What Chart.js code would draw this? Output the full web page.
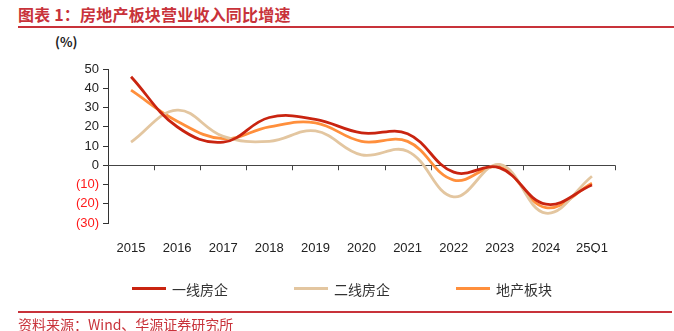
<!DOCTYPE html>
<html>
<head>
<meta charset="utf-8">
<script src="https://cdn.jsdelivr.net/npm/chart.js@4/dist/chart.umd.min.js"></script>
<style>
  html, body { margin: 0; padding: 0; background: #fff; }
  #wrap { position: relative; width: 674px; height: 331px; overflow: hidden; font-family: "Noto Sans CJK SC", sans-serif; }
  #chartRev { position: absolute; left: 0; top: 0; }
  .title { position: absolute; left: 18px; top: 4px; font-size: 16px; font-weight: bold; color: #c8323a; letter-spacing: 0.2px; line-height: 20px; white-space: nowrap; }
  .rule { position: absolute; left: 18px; right: 0; background: #c8323a; }
  .unit { position: absolute; left: 55px; top: 32px; font-size: 13px; font-weight: bold; color: #222; }
  .source { position: absolute; left: 18px; top: 315px; font-size: 14px; color: #c8323a; line-height: 18px; white-space: nowrap; }
  #legend { position: absolute; top: 279px; left: 0; width: 674px; height: 20px; }
  .lg-item { position: absolute; top: 0; height: 20px; }
  .lg-swatch { position: absolute; left: 0; top: 8px; width: 34px; height: 3px; }
  .lg-text { position: absolute; left: 40px; top: 0; font-size: 14px; line-height: 20px; color: #333; white-space: nowrap; }
</style>
</head>
<body>
<div id="wrap">
  <div class="title">图表 1：房地产板块营业收入同比增速</div>
  <div class="rule" style="top:26px;height:2px;"></div>
  <div class="unit">(%)</div>
  <canvas id="chartRev" width="674" height="331"></canvas>
  <div id="legend"></div>
  <div class="rule" style="top:311px;height:1.5px;right:2px;"></div>
  <div class="source">资料来源：Wind、华源证券研究所</div>
</div>
<script>
const labels = ["2015", "2016", "2017", "2018", "2019", "2020", "2021", "2022", "2023", "2024", "25Q1"];
const seriesNames = ["一线房企", "二线房企", "地产板块"];
const tier1 = [46, 20, 12, 24.8, 23.8, 16.8, 16.4, -3.6, -1.4, -20.2, -10.3];
const tier2 = [12, 28.6, 15, 12.4, 17.8, 5.4, 7.3, -16.4, 0.4, -24.9, -5.7];
const sector = [39, 22.9, 13.8, 19.9, 22, 12.4, 12.4, -7.7, -1, -22, -9.4];
const yTicks = [-30, -20, -10, 0, 10, 20, 30, 40, 50];
const colors = ["#c92410", "#e3c6a0", "#ff8f3c"];

const el = (id) => document.getElementById(id);

// negativos entre paréntesis
const fmtTick = (v) => (v < 0 ? "(" + Math.abs(v) + ")" : String(v));

// eje x en el cero con marcas entre categorías
const zeroAxis = {
  id: "zeroAxis",
  beforeDatasetsDraw(chart) {
    const { ctx, chartArea, scales } = chart;
    const y0 = scales.y.getPixelForValue(0);
    const x = scales.x;
    ctx.save();
    ctx.strokeStyle = "#444";
    ctx.lineWidth = 1;
    ctx.beginPath();
    ctx.moveTo(chartArea.left, Math.round(y0) + 0.5);
    ctx.lineTo(chartArea.right, Math.round(y0) + 0.5);
    for (let i = 0; i < labels.length; i++) {
      const bx = i < labels.length - 1
        ? (x.getPixelForValue(i) + x.getPixelForValue(i + 1)) / 2
        : chartArea.right;
      ctx.moveTo(Math.round(bx) + 0.5, y0);
      ctx.lineTo(Math.round(bx) + 0.5, y0 + 5);
    }
    ctx.stroke();
    ctx.restore();
  },
};

function renderLegend() {
  const starts = [132, 294, 456];
  el("legend").innerHTML = seriesNames
    .map((n, i) =>
      `<div class="lg-item" style="left:${starts[i]}px"><div class="lg-swatch" style="background:${colors[i]}"></div><div class="lg-text">${n}</div></div>`)
    .join("");
}

function renderChart() {
  const data = [tier1, tier2, sector];
  new Chart(el("chartRev").getContext("2d"), {
    type: "line",
    data: {
      labels,
      datasets: data.map((d, i) => ({
        label: seriesNames[i],
        data: d,
        borderColor: colors[i],
        borderWidth: 2.8,
        pointRadius: 0,
        tension: 0.4,
        fill: false,
      })),
    },
    options: {
      responsive: false,
      animation: false,
      layout: { padding: { left: 0, right: 59, top: 69, bottom: 78 } },
      plugins: { legend: { display: false }, tooltip: { enabled: false } },
      scales: {
        x: {
          offset: true,
          grid: { display: false },
          border: { display: false },
          ticks: { color: "#222", font: { family: "Liberation Sans", size: 13 }, padding: 10, maxRotation: 0 },
          afterFit: (s) => { s.height = 30; },
        },
        y: {
          min: -30,
          max: 50,
          afterBuildTicks: (s) => { s.ticks = yTicks.map((v) => ({ value: v })); },
          afterFit: (s) => { s.width = 108; },
          grid: { drawOnChartArea: false, drawTicks: true, tickLength: 5, color: "#333" },
          border: { display: true, color: "#333", width: 1 },
          ticks: {
            padding: 4,
            font: { family: "Liberation Sans", size: 13 },
            color: (c) => (c.tick.value < 0 ? "#ff1a1a" : "#222"),
            callback: (v) => fmtTick(v),
          },
        },
      },
    },
    plugins: [zeroAxis],
  });
}

document.addEventListener("DOMContentLoaded", () => {
  renderLegend();
  renderChart();
});
</script>
</body>
</html>
